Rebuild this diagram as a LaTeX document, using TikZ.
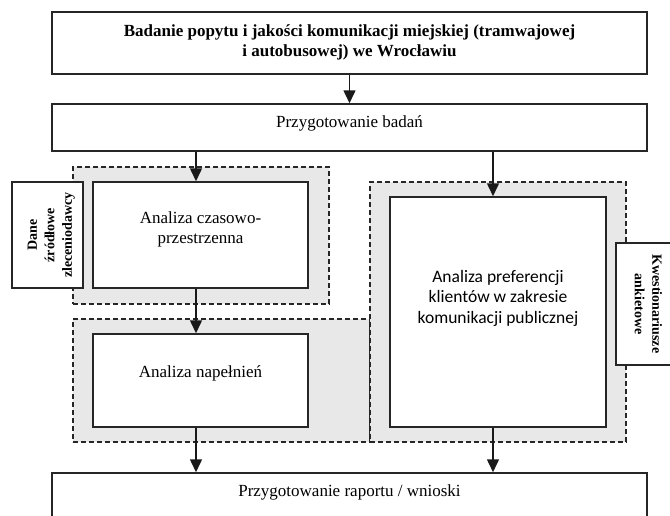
\documentclass[tikz,border=0pt]{standalone}
\usepackage{fontspec}
\setmainfont{Liberation Serif}
\newfontfamily\calibri{Carlito}
\usetikzlibrary{arrows.meta}
\newcommand{\lifted}[2]{\raisebox{#1}[0pt][0pt]{\begin{tabular}{@{}c@{}}#2\end{tabular}}}
\tikzset{%
    >={Triangle[width=12pt,length=13pt]},
    box/.style={rectangle,draw=black!85,line width=1.5pt,fill=white,inner sep=0pt,
        font=\fontsize{17}{20}\selectfont},
    wide/.style={minimum width=595pt},
    inner/.style={minimum width=215pt},
    sidebox/.style={box,minimum height=71pt,font=\fontsize{14}{17.5}\selectfont\bfseries},
    zone/.style={rectangle,draw=black!85,line width=1.3pt,dash pattern=on 5pt off 3pt,
        fill=gray!18,inner sep=0pt},
    arr/.style={->,line width=1.5pt,draw=black!90}
}

\begin{document}
\begin{tikzpicture}[x=1pt,y=-1pt]
            \useasboundingbox (0,0) rectangle (670,515);
            \clip (0,0) rectangle (670,515);
            %%%%% grey zones
            \node [zone,minimum width=256pt,minimum height=137pt] (z-left) at (201,235.5) {};
            \node [zone,minimum width=297pt,minimum height=123pt] (z-mid) at (221.5,380.5) {};
            \node [zone,minimum width=256pt,minimum height=260pt] (z-right) at (498,312) {};
            %%%%% boxes
            \node [box,wide,minimum height=62pt,font=\fontsize{17}{20}\selectfont\bfseries] (b-top) at (349.5,43)
            {\lifted{-4pt}{Badanie popytu i jakości komunikacji miejskiej (tramwajowej\\i autobusowej) we Wrocławiu}};
            \node [box,wide,minimum height=47pt] (b-prep) at (349.5,127.5) {\lifted{0pt}{Przygotowanie badań}};
            \node [box,inner,minimum height=106pt] (b-czas) at (200.5,235) {\lifted{1pt}{Analiza czasowo-\\przestrzenna}};
            \node [box,inner,minimum height=93pt] (b-nap) at (200.5,380.5) {\lifted{3pt}{Analiza napełnień}};
            \node [box,minimum width=216pt,minimum height=230pt,font=\calibri\fontsize{17.5}{20.5}\selectfont] (b-pref) at (498,312)
            {\lifted{9pt}{Analiza preferencji\\klientów w zakresie\\komunikacji publicznej}};
            \node [sidebox,rotate=90,minimum width=106pt] (b-dane) at (47.5,235) {\lifted{-7pt}{Dane\\źródłowe\\zleceniodawcy}};
            \node [sidebox,rotate=-90,minimum width=122pt] (b-kw) at (651.5,304) {\lifted{-8pt}{Kwestionariusze\\ankietowe}};
            \node [box,wide,minimum height=47pt] (b-rap) at (349.5,496.5) {\lifted{0pt}{Przygotowanie raportu / wnioski}};
            %%%%% arrows
            \coordinate (colL) at (196,0);
            \coordinate (colR) at (493,0);
            \draw[arr] (b-top) -- (b-prep);
            \draw[arr] (b-prep.south -| colL) -- (b-czas.north -| colL);
            \draw[arr] (b-czas.south -| colL) -- (b-nap.north -| colL);
            \draw[arr] (b-nap.south -| colL) -- (b-rap.north -| colL);
            \draw[arr] (b-prep.south -| colR) -- (b-pref.north -| colR);
            \draw[arr] (b-pref.south -| colR) -- (b-rap.north -| colR);
\end{tikzpicture}
\end{document}
